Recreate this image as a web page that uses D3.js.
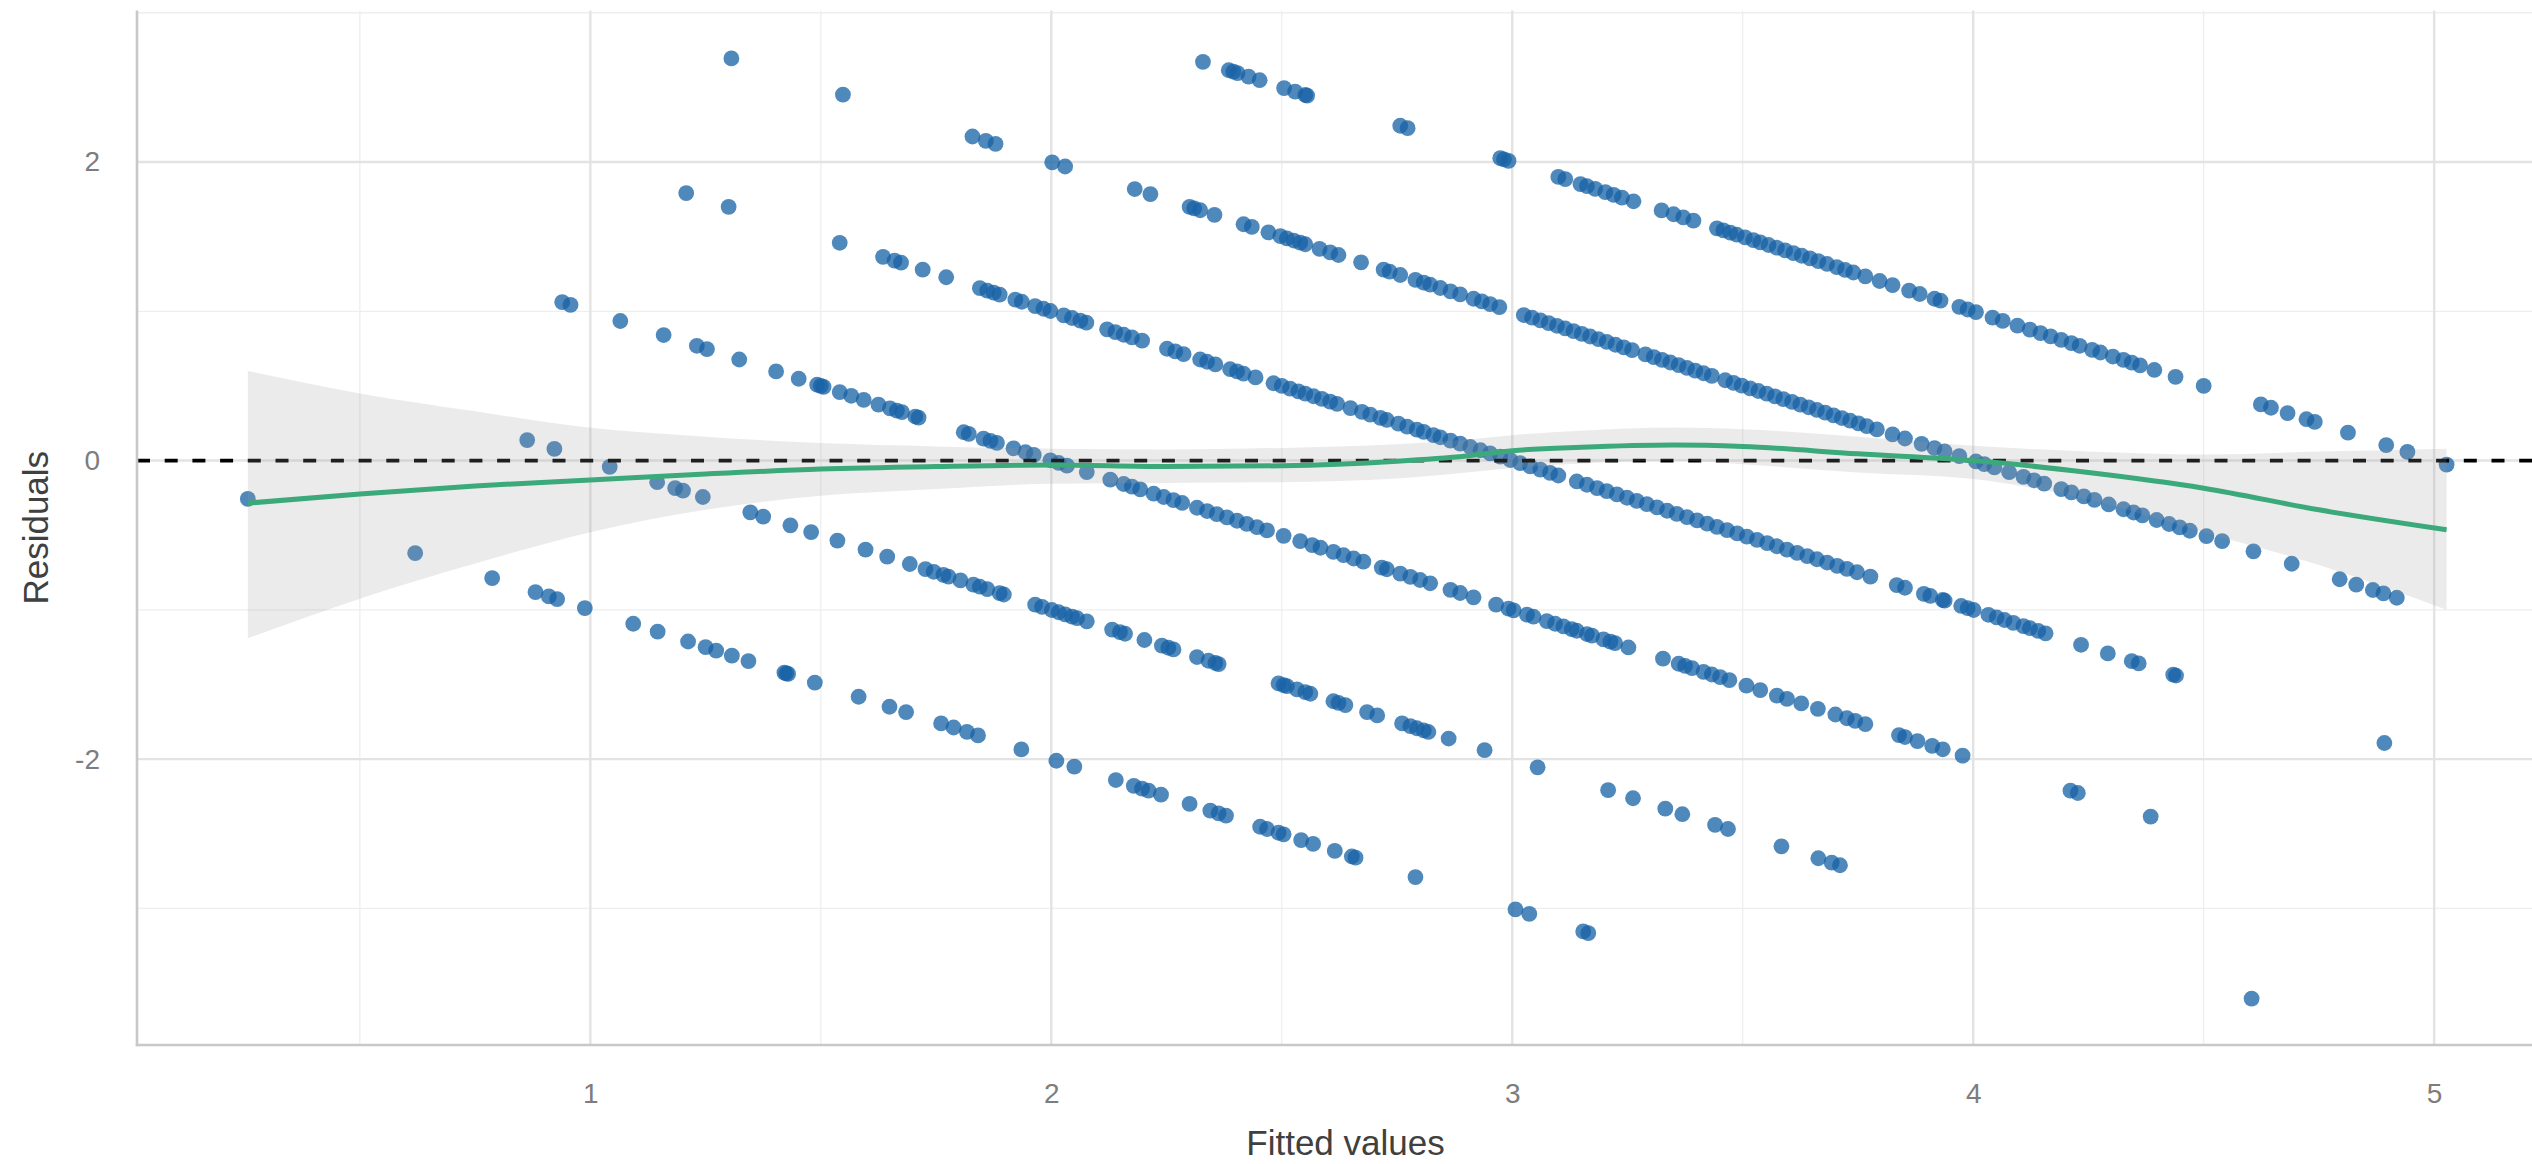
<!DOCTYPE html>
<html>
<head>
<meta charset="utf-8">
<script src="https://cdn.jsdelivr.net/npm/d3@7"></script>
<style>
  body { margin: 0; background: #fff; }
  svg { display: block; font-family: "Liberation Sans", Arial, Helvetica, sans-serif; }
</style>
</head>
<body>
<div id="chart"></div>
<script>
// observed outcome (0..5) and the fitted values of the cases with that outcome
let observedScores = [0, 1, 2, 3, 4, 5];

let fittedScore0 = [0.257, 0.620, 0.787, 0.881, 0.910, 0.928, 0.988, 1.093, 1.146, 1.212, 1.250, 1.273,
    1.307, 1.343, 1.421, 1.425, 1.429, 1.487, 1.582, 1.649, 1.685, 1.761, 1.788, 1.817, 1.841, 1.935,
    2.011, 2.050, 2.140, 2.179, 2.197, 2.211, 2.238, 2.300, 2.345, 2.363, 2.379, 2.453, 2.468, 2.493,
    2.504, 2.542, 2.568, 2.615, 2.652, 2.660, 2.790, 3.007, 3.037, 3.154, 3.165];

let fittedScore1 = [0.863, 0.922, 1.042, 1.145, 1.184, 1.201, 1.244, 1.347, 1.375, 1.434, 1.479, 1.536,
    1.597, 1.644, 1.693, 1.727, 1.745, 1.766, 1.777, 1.803, 1.831, 1.845, 1.861, 1.888, 1.897, 1.965,
    1.980, 2.001, 2.016, 2.030, 2.045, 2.056, 2.077, 2.132, 2.149, 2.160, 2.202, 2.240, 2.254, 2.265,
    2.316, 2.341, 2.356, 2.363, 2.493, 2.504, 2.511, 2.533, 2.551, 2.562, 2.612, 2.623, 2.638, 2.685,
    2.707, 2.761, 2.779, 2.793, 2.808, 2.818, 2.862, 2.940, 3.055, 3.208, 3.262, 3.332, 3.369, 3.440,
    3.468, 3.584, 3.664, 3.693, 3.711, 4.604];

let fittedScore2 = [0.939, 0.957, 1.065, 1.159, 1.231, 1.253, 1.323, 1.403, 1.452, 1.492, 1.500, 1.506,
    1.541, 1.566, 1.593, 1.625, 1.650, 1.665, 1.676, 1.705, 1.712, 1.810, 1.821, 1.853, 1.868, 1.882,
    1.918, 1.944, 1.962, 1.998, 2.016, 2.034, 2.077, 2.128, 2.157, 2.175, 2.193, 2.222, 2.244, 2.265,
    2.284, 2.316, 2.338, 2.359, 2.381, 2.403, 2.424, 2.446, 2.468, 2.504, 2.540, 2.566, 2.584, 2.612,
    2.634, 2.656, 2.677, 2.717, 2.728, 2.757, 2.779, 2.800, 2.822, 2.866, 2.887, 2.916, 2.965, 2.992,
    3.003, 3.032, 3.046, 3.075, 3.093, 3.111, 3.129, 3.140, 3.162, 3.173, 3.198, 3.213, 3.223, 3.252,
    3.327, 3.361, 3.375, 3.390, 3.415, 3.433, 3.451, 3.471, 3.508, 3.538, 3.574, 3.596, 3.627, 3.663,
    3.701, 3.726, 3.744, 3.766, 3.839, 3.852, 3.879, 3.911, 3.934, 3.977, 4.211, 4.227, 4.385];

let fittedScore3 = [1.208, 1.300, 1.541, 1.635, 1.660, 1.674, 1.721, 1.772, 1.845, 1.861, 1.875, 1.888,
    1.922, 1.936, 1.965, 1.983, 1.998, 2.027, 2.045, 2.063, 2.076, 2.121, 2.139, 2.157, 2.175, 2.197,
    2.251, 2.269, 2.287, 2.323, 2.338, 2.356, 2.388, 2.403, 2.417, 2.443, 2.482, 2.500, 2.518, 2.536,
    2.551, 2.569, 2.587, 2.605, 2.620, 2.649, 2.674, 2.692, 2.714, 2.728, 2.753, 2.772, 2.793, 2.808,
    2.829, 2.844, 2.866, 2.887, 2.909, 2.931, 2.952, 2.974, 2.996, 3.017, 3.039, 3.061, 3.082, 3.100,
    3.140, 3.162, 3.184, 3.205, 3.227, 3.249, 3.270, 3.292, 3.314, 3.336, 3.357, 3.379, 3.401, 3.423,
    3.444, 3.466, 3.488, 3.509, 3.531, 3.553, 3.574, 3.596, 3.618, 3.640, 3.661, 3.683, 3.705, 3.726,
    3.748, 3.777, 3.834, 3.852, 3.893, 3.907, 3.934, 3.938, 3.974, 3.988, 4.001, 4.033, 4.051, 4.068,
    4.087, 4.109, 4.123, 4.141, 4.157, 4.234, 4.292, 4.344, 4.359, 4.434, 4.440, 4.892];

let fittedScore4 = [1.306, 1.548, 1.829, 1.858, 1.879, 2.002, 2.030, 2.181, 2.215, 2.300, 2.310, 2.323,
    2.354, 2.417, 2.435, 2.471, 2.497, 2.511, 2.526, 2.540, 2.551, 2.582, 2.605, 2.623, 2.672, 2.721,
    2.734, 2.757, 2.790, 2.808, 2.822, 2.844, 2.866, 2.887, 2.916, 2.934, 2.952, 2.972, 3.025, 3.043,
    3.061, 3.079, 3.097, 3.115, 3.133, 3.151, 3.169, 3.187, 3.205, 3.224, 3.242, 3.260, 3.289, 3.307,
    3.325, 3.343, 3.361, 3.379, 3.397, 3.415, 3.433, 3.462, 3.480, 3.498, 3.516, 3.534, 3.552, 3.570,
    3.588, 3.607, 3.625, 3.643, 3.661, 3.679, 3.697, 3.715, 3.733, 3.751, 3.769, 3.791, 3.825, 3.852,
    3.888, 3.916, 3.938, 3.970, 4.006, 4.024, 4.046, 4.078, 4.109, 4.132, 4.154, 4.191, 4.213, 4.240,
    4.263, 4.294, 4.326, 4.348, 4.367, 4.398, 4.425, 4.448, 4.470, 4.506, 4.540, 4.608, 4.691, 4.795,
    4.831, 4.867, 4.890, 4.919];

let fittedScore5 = [2.329, 2.385, 2.395, 2.404, 2.428, 2.452, 2.505, 2.529, 2.551, 2.555, 2.757, 2.773,
    2.974, 2.982, 2.992, 3.100, 3.115, 3.148, 3.162, 3.180, 3.202, 3.220, 3.238, 3.263, 3.324, 3.350,
    3.371, 3.393, 3.444, 3.458, 3.473, 3.487, 3.505, 3.523, 3.538, 3.556, 3.574, 3.592, 3.610, 3.628,
    3.646, 3.664, 3.683, 3.704, 3.722, 3.740, 3.766, 3.797, 3.825, 3.861, 3.884, 3.916, 3.929, 3.970,
    3.988, 4.006, 4.042, 4.064, 4.096, 4.123, 4.146, 4.168, 4.191, 4.213, 4.231, 4.258, 4.276, 4.303,
    4.326, 4.344, 4.362, 4.393, 4.439, 4.500, 4.624, 4.646, 4.682, 4.723, 4.741, 4.813, 4.896, 4.942,
    5.027];

// loess smooth of the residuals with its confidence band
let smoothX     = [0.257, 0.5, 0.75, 1.0, 1.25, 1.5, 1.75, 2.0, 2.25, 2.5, 2.75, 2.9, 3.0, 3.15, 3.35, 3.5, 3.75, 4.0, 4.25, 4.5, 4.75, 5.027];
let smoothFit   = [-0.285, -0.224, -0.17, -0.13, -0.09, -0.057, -0.04, -0.03, -0.04, -0.035, -0.005, 0.03, 0.066, 0.09, 0.105, 0.095, 0.045, 0.0, -0.08, -0.185, -0.33, -0.464];
let smoothUpper = [0.60, 0.45, 0.33, 0.22, 0.16, 0.117, 0.095, 0.08, 0.075, 0.085, 0.11, 0.14, 0.17, 0.20, 0.222, 0.21, 0.16, 0.10, 0.06, 0.04, 0.06, 0.08];
let smoothLower = [-1.19, -0.925, -0.69, -0.48, -0.33, -0.236, -0.19, -0.155, -0.15, -0.145, -0.12, -0.08, -0.05, -0.02, 0.0, -0.025, -0.08, -0.124, -0.26, -0.48, -0.70, -1.0];

let xTicks = [1, 2, 3, 4, 5];
let xMinor = [0.5, 1.5, 2.5, 3.5, 4.5];
let yTicks = [-2, 0, 2];
let yMinor = [-3, -1, 1, 3];

let drawChart = function() {
    let W = 2532, H = 1164;
    let left = 137, right = 2554, top = 10.5, bottom = 1045;

    let svg = d3.select('#chart').append('svg')
        .attr('width', W)
        .attr('height', H);

    let x = d3.scaleLinear().domain([0.0165, 5.26]).range([left, right]);
    let y = d3.scaleLinear().domain([-3.915, 3.015]).range([bottom, top]);

    // grid
    let grid = svg.append('g');
    grid.selectAll('.xminor').data(xMinor).enter().append('line')
        .attr('x1', d => x(d)).attr('x2', d => x(d))
        .attr('y1', top).attr('y2', bottom)
        .attr('stroke', '#eeeeee').attr('stroke-width', 1.3);
    grid.selectAll('.yminor').data(yMinor).enter().append('line')
        .attr('x1', left).attr('x2', right)
        .attr('y1', d => y(d)).attr('y2', d => y(d))
        .attr('stroke', '#eeeeee').attr('stroke-width', 1.3);
    grid.selectAll('.xmajor').data(xTicks).enter().append('line')
        .attr('x1', d => x(d)).attr('x2', d => x(d))
        .attr('y1', top).attr('y2', bottom)
        .attr('stroke', '#e3e3e3').attr('stroke-width', 2.4);
    grid.selectAll('.ymajor').data(yTicks).enter().append('line')
        .attr('x1', left).attr('x2', right)
        .attr('y1', d => y(d)).attr('y2', d => y(d))
        .attr('stroke', '#e3e3e3').attr('stroke-width', 2.4);

    // residual = observed - fitted
    let fittedByScore = [fittedScore0, fittedScore1, fittedScore2, fittedScore3, fittedScore4, fittedScore5];
    let points = [];
    observedScores.forEach(function(score, i) {
        fittedByScore[i].forEach(function(f) {
            points.push({fitted: f, residual: score - f});
        });
    });

    svg.append('g').selectAll('circle')
        .data(points)
        .enter()
        .append('circle')
            .attr('cx', d => x(d.fitted))
            .attr('cy', d => y(d.residual))
            .attr('r', 7.9)
            .attr('fill', '#1862a6')
            .attr('fill-opacity', 0.76);

    // zero reference line
    svg.append('line')
        .attr('x1', left).attr('x2', right)
        .attr('y1', y(0)).attr('y2', y(0))
        .attr('stroke', '#000')
        .attr('stroke-width', 3.8)
        .attr('stroke-dasharray', '13,14.7');

    // smooth
    let smooth = smoothX.map((v, i) => ({x: v, fit: smoothFit[i], lo: smoothLower[i], hi: smoothUpper[i]}));
    svg.append('path')
        .datum(smooth)
        .attr('fill', '#999999')
        .attr('fill-opacity', 0.2)
        .attr('d', d3.area().curve(d3.curveMonotoneX)
            .x(d => x(d.x)).y0(d => y(d.lo)).y1(d => y(d.hi)));
    svg.append('path')
        .datum(smooth)
        .attr('fill', 'none')
        .attr('stroke', '#3ca97b')
        .attr('stroke-width', 5)
        .attr('d', d3.line().curve(d3.curveMonotoneX)
            .x(d => x(d.x)).y(d => y(d.fit)));

    // axis lines
    svg.append('line')
        .attr('x1', left).attr('x2', left).attr('y1', top).attr('y2', bottom + 1.2)
        .attr('stroke', '#c8c8c8').attr('stroke-width', 2.6);
    svg.append('line')
        .attr('x1', left - 1.2).attr('x2', W).attr('y1', bottom).attr('y2', bottom)
        .attr('stroke', '#c8c8c8').attr('stroke-width', 2.6);

    // tick labels
    let xAxis = svg.append('g')
        .attr('transform', 'translate(0,' + bottom + ')')
        .call(d3.axisBottom(x).tickValues(xTicks).tickSize(0).tickPadding(38).tickFormat(d3.format('d')));
    let yAxis = svg.append('g')
        .attr('transform', 'translate(' + left + ',0)')
        .call(d3.axisLeft(y).tickValues(yTicks).tickSize(0).tickPadding(37).tickFormat(d => d < 0 ? '-' + Math.abs(d) : d));
    [xAxis, yAxis].forEach(function(a) {
        a.select('.domain').remove();
        a.selectAll('text')
            .style('font-family', '"Liberation Sans", Arial, sans-serif')
            .style('font-size', '28px')
            .attr('fill', '#7d7d7d');
    });

    // axis titles
    svg.append('text')
        .attr('x', (left + right) / 2)
        .attr('y', 1155)
        .attr('text-anchor', 'middle')
        .style('font-size', '35px')
        .attr('fill', '#404040')
        .text('Fitted values');
    svg.append('text')
        .attr('transform', 'translate(48,' + ((top + bottom) / 2) + ')rotate(-90)')
        .attr('text-anchor', 'middle')
        .style('font-size', '35px')
        .attr('fill', '#404040')
        .text('Residuals');
}

drawChart();
</script>
</body>
</html>
